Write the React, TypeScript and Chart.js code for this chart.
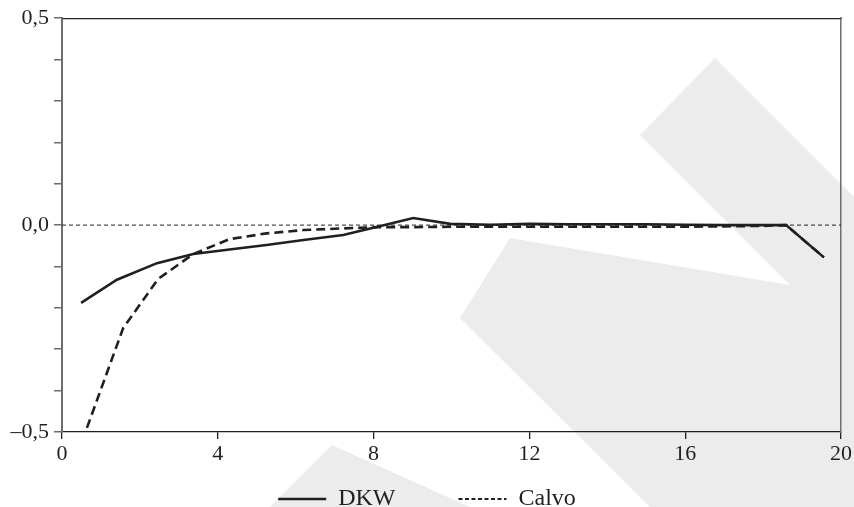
import React, { useEffect, useRef } from "react";
import { Chart, registerables } from "chart.js";

Chart.register(...registerables);

// ---- data ----
const DKW_X = [0.49, 1.41, 2.44, 3.37, 4.3, 5.25, 6.2, 7.22, 8.1, 9.02, 9.97, 11.0, 12.0, 13.0, 14.0, 15.0, 16.0, 17.0, 18.0, 18.59, 19.56];
const DKW_Y = [-0.188, -0.132, -0.092, -0.07, -0.059, -0.048, -0.036, -0.024, -0.004, 0.017, 0.003, 0.001, 0.003, 0.002, 0.002, 0.002, 0.001, 0.0, 0.0, 0.0, -0.078];

const CALVO_X = [0.64, 1.57, 2.47, 3.37, 4.3, 5.25, 6.2, 7.2, 8.1, 9.0, 10.0, 11.0, 12.0, 13.0, 14.0, 15.0, 16.0, 17.0, 18.0, 18.59, 19.56];
const CALVO_Y = [-0.49, -0.249, -0.13, -0.07, -0.034, -0.02, -0.012, -0.008, -0.005, -0.005, -0.004, -0.004, -0.004, -0.004, -0.004, -0.004, -0.004, -0.003, -0.002, 0.0, -0.078];

const ZERO_X = [0, 20];
const ZERO_Y = [0, 0];

const SERIES_LABELS = ["DKW", "Calvo"];
const X_RANGE = [0, 20];
const X_STEP = 4;
const Y_RANGE = [-0.5, 0.5];
const Y_STEP = 0.1;
const Y_LABEL_VALUES = [-0.5, 0, 0.5];
const Y_LABEL_TEXTS = ["\u20130,5", "0,0", "0,5"];

// background watermark shapes (decoration, not data)
const WATERMARK = [
  [[640, 135], [715, 58], [854, 197], [854, 507], [650, 507], [460, 318], [510, 238], [790, 285]],
  [[332, 445], [470, 507], [270, 507]],
];

const FONT = "'Liberation Serif', 'Times New Roman', serif";
const INK = "#231f20";

const watermarkPlugin = {
  id: "watermark",
  beforeDraw(chart: any) {
    const ctx = chart.ctx;
    ctx.save();
    ctx.fillStyle = "#ececec";
    for (const poly of WATERMARK) {
      ctx.beginPath();
      poly.forEach((p, i) => (i === 0 ? ctx.moveTo(p[0], p[1]) : ctx.lineTo(p[0], p[1])));
      ctx.closePath();
      ctx.fill();
    }
    ctx.restore();
  },
};

// move/enlarge the legend box so its row sits where the reference has it
const legendShift = {
  id: "legendShift",
  afterLayout(chart: any) {
    const lg = chart.legend;
    if (!lg) return;
    lg.top = 424;
    lg.bottom = chart.height;
    lg.height = chart.height - 424;
  },
};

export default function App() {
  const ref = useRef<HTMLCanvasElement | null>(null);

  useEffect(() => {
    document.body.style.margin = "0";
    const canvas = ref.current;
    if (!canvas) return;

    const chart = new Chart(canvas, {
      type: "line",
      data: {
        datasets: [
          {
            label: SERIES_LABELS[0],
            data: DKW_X.map((x, i) => ({ x, y: DKW_Y[i] })),
            borderColor: INK,
            backgroundColor: INK,
            borderWidth: 2.6,
            pointRadius: 0,
            tension: 0,
          },
          {
            label: SERIES_LABELS[1],
            data: CALVO_X.map((x, i) => ({ x, y: CALVO_Y[i] })),
            borderColor: INK,
            backgroundColor: INK,
            borderWidth: 2.6,
            borderDash: [9, 5],
            pointRadius: 0,
            tension: 0,
          },
          {
            label: "zero",
            data: ZERO_X.map((x, i) => ({ x, y: ZERO_Y[i] })),
            borderColor: INK,
            borderWidth: 1,
            borderDash: [4, 3],
            pointRadius: 0,
          },
        ],
      },
      options: {
        animation: false,
        responsive: false,
        maintainAspectRatio: false,
        layout: { padding: { left: 0, right: 0, top: 0, bottom: 0 } },
        scales: {
          x: {
            type: "linear",
            position: "bottom",
            min: X_RANGE[0],
            max: X_RANGE[1],
            afterFit: (s: any) => {
              s.height = 45;
            },
            ticks: {
              stepSize: X_STEP,
              font: { family: FONT, size: 22 },
              color: INK,
              padding: 2,
              maxRotation: 0,
              autoSkip: false,
            },
            grid: { display: true, drawOnChartArea: false, drawTicks: true, tickLength: 7, color: INK, lineWidth: 1.3 },
            border: { display: true, color: INK, width: 1.3 },
          },
          x2: {
            type: "linear",
            position: "top",
            min: X_RANGE[0],
            max: X_RANGE[1],
            afterFit: (s: any) => {
              s.height = 18;
            },
            ticks: { display: false },
            grid: { display: false },
            border: { display: true, color: INK, width: 1.2 },
          },
          y: {
            type: "linear",
            position: "left",
            min: Y_RANGE[0],
            max: Y_RANGE[1],
            afterFit: (s: any) => {
              s.width = 62;
            },
            ticks: {
              stepSize: Y_STEP,
              autoSkip: false,
              font: { family: FONT, size: 22 },
              color: INK,
              padding: 5,
              callback: (v: any) => {
                const n = Number(v);
                const idx = Y_LABEL_VALUES.findIndex((t) => Math.abs(t - n) < 1e-9);
                return idx >= 0 ? Y_LABEL_TEXTS[idx] : "";
              },
            },
            grid: { display: true, drawOnChartArea: false, drawTicks: true, tickLength: 8, color: "#6d6e71", lineWidth: 1.5 },
            border: { display: true, color: "#6d6e71", width: 2 },
          },
          y2: {
            type: "linear",
            position: "right",
            min: Y_RANGE[0],
            max: Y_RANGE[1],
            afterFit: (s: any) => {
              s.width = 13;
            },
            ticks: { display: false },
            grid: { display: false },
            border: { display: true, color: "#6d6e71", width: 1.5 },
          },
        },
        plugins: {
          tooltip: { enabled: false },
          legend: {
            display: true,
            position: "bottom",
            maxHeight: 30,
            labels: {
              usePointStyle: true,
              pointStyle: "line",
              pointStyleWidth: 48,
              padding: 63,
              color: INK,
              font: { family: FONT, size: 24 },
              generateLabels: (c: any) => {
                const base = Chart.defaults.plugins.legend.labels.generateLabels(c);
                return base
                  .filter((it: any) => it.datasetIndex < 2)
                  .map((it: any) =>
                    it.datasetIndex === 1
                      ? { ...it, lineDash: [4, 2.5], lineWidth: 2, pointStyle: "line" }
                      : { ...it, lineWidth: 2.6, pointStyle: "line" }
                  );
              },
            },
          },
        },
      },
      plugins: [watermarkPlugin, legendShift],
    } as any);

    return () => chart.destroy();
  }, []);

  return (
    <div style={{ width: 854, height: 507, position: "relative" }}>
      <canvas ref={ref} width={854} height={507} style={{ display: "block" }} />
    </div>
  );
}
